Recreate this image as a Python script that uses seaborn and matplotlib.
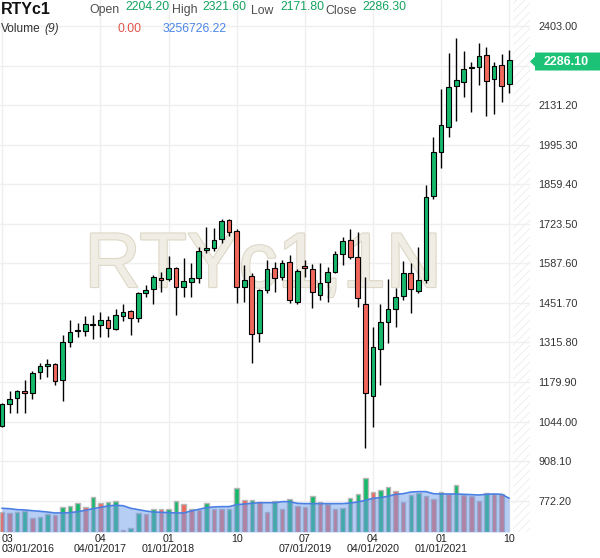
import numpy as np
import pandas as pd
import matplotlib
matplotlib.use('Agg')
import matplotlib.pyplot as plt
import seaborn as sns
from matplotlib.patches import Polygon
from matplotlib import transforms
import matplotlib.patheffects as pe

# ---------------- data ----------------
months = pd.date_range('2016-03-01', periods=68, freq='MS')

open_ = [1029, 1103, 1124, 1148, 1141, 1213, 1234, 1241, 1186, 1316,
         1354, 1354, 1376, 1375, 1392, 1363, 1408, 1423, 1398, 1487,
         1498, 1536, 1532, 1570, 1505, 1522, 1536, 1632, 1639, 1670,
         1735, 1698, 1505, 1543, 1347, 1496, 1570, 1539, 1591, 1453,
         1577, 1567, 1478, 1522, 1557, 1618, 1666, 1608, 1447, 1130,
         1292, 1385, 1429, 1474, 1553, 1491, 1530, 1819, 1969, 2055,
         2196, 2209, 2260, 2261, 2302, 2220, 2268, 2204.2]
high = [1109, 1148, 1152, 1187, 1216, 1244, 1258, 1244, 1340, 1392,
        1381, 1405, 1411, 1419, 1405, 1429, 1447, 1427, 1488, 1512,
        1547, 1557, 1611, 1576, 1605, 1588, 1645, 1713, 1708, 1739,
        1739, 1704, 1581, 1555, 1498, 1598, 1591, 1599, 1616, 1567,
        1599, 1585, 1587, 1576, 1631, 1679, 1707, 1696, 1542, 1369,
        1447, 1532, 1502, 1597, 1587, 1645, 1856, 2023, 2185, 2309,
        2361, 2316, 2280, 2343, 2330, 2278, 2306, 2321.6]
low = [1024, 1074, 1074, 1072, 1120, 1189, 1196, 1170, 1116, 1299,
       1333, 1338, 1326, 1333, 1336, 1358, 1391, 1342, 1387, 1473,
       1447, 1488, 1527, 1409, 1473, 1473, 1519, 1624, 1630, 1658,
       1683, 1450, 1456, 1244, 1316, 1484, 1490, 1530, 1452, 1447,
       1539, 1433, 1461, 1453, 1553, 1581, 1601, 1436, 952, 1024,
       1168, 1313, 1368, 1461, 1418, 1484, 1519, 1807, 1914, 2020,
       2075, 2158, 2106, 2199, 2093, 2099, 2141, 2171.8]
close = [1104, 1120, 1148, 1141, 1210, 1234, 1241, 1182, 1316, 1350,
         1357, 1378, 1378, 1392, 1364, 1409, 1419, 1398, 1484, 1495,
         1539, 1529, 1570, 1505, 1527, 1536, 1629, 1639, 1666, 1732,
         1694, 1505, 1529, 1343, 1496, 1567, 1536, 1587, 1461, 1560,
         1570, 1488, 1519, 1557, 1618, 1663, 1608, 1467, 1141, 1299,
         1385, 1429, 1471, 1553, 1498, 1529, 1814, 1969, 2062, 2192,
         2216, 2254, 2262, 2299, 2213, 2264, 2196, 2286.3]

# volume in millions and its 9-period moving average
volume_m = [1.96, 1.80, 1.96, 2.03, 1.38, 1.48, 1.71, 1.67, 2.45, 2.54,
            2.83, 2.45, 3.41, 2.83, 2.90, 2.99, 0.16, 0.39, 1.87, 1.71,
            2.25, 2.19, 2.22, 3.03, 2.74, 2.22, 2.16, 2.80, 2.25, 2.19,
            2.22, 4.28, 3.06, 3.12, 2.90, 1.96, 2.99, 2.25, 3.19, 2.54,
            2.45, 3.51, 2.90, 2.70, 2.25, 2.35, 3.32, 3.67, 5.18, 3.90,
            4.06, 4.38, 3.99, 2.93, 3.57, 3.77, 3.51, 3.22, 3.90, 3.64,
            4.54, 3.57, 3.48, 3.03, 3.80, 3.67, 3.64, 0.0]
vol_ma_m = [2.29, 2.25, 2.16, 2.13, 2.06, 2.00, 1.93, 1.84, 1.84, 1.87,
            1.96, 2.09, 2.25, 2.38, 2.51, 2.58, 2.54, 2.29, 2.16, 2.03,
            1.93, 1.90, 1.87, 1.84, 1.84, 2.03, 2.19, 2.35, 2.42, 2.45,
            2.45, 2.64, 2.70, 2.77, 2.83, 2.83, 2.83, 2.93, 2.93, 2.77,
            2.74, 2.74, 2.74, 2.74, 2.74, 2.74, 2.80, 2.90, 3.06, 3.25,
            3.32, 3.45, 3.64, 3.70, 3.86, 3.90, 3.90, 3.70, 3.67, 3.67,
            3.67, 3.64, 3.61, 3.57, 3.64, 3.67, 3.64, 3.26]

price_ticks = [2403.00, 2267.10, 2131.20, 1995.30, 1859.40, 1723.50, 1587.60,
               1451.70, 1315.80, 1179.90, 1044.00, 908.10, 772.20]
xtick_idx = [0, 13, 22, 31, 40, 49, 58, 67]
xtick_top = ['03', '04', '01', '10', '07', '04', '01', '10']
xtick_bottom = ['03/01/2016', '04/01/2017', '01/01/2018', '', '07/01/2019',
                '04/01/2020', '01/01/2021', '']
last_price = 2286.10
hdr_open, hdr_high, hdr_low, hdr_close = '2204.20', '2321.60', '2171.80', '2286.30'
hdr_vol, hdr_vol_ma = '0.00', '3256726.22'

# ---------------- style ----------------
sns.set_style('white')
plt.rcParams['font.family'] = ['Liberation Sans', 'DejaVu Sans']
plt.rcParams['hatch.linewidth'] = 0.5

GREEN = '#16b86c'
RED = '#f2675b'
W, H = 600, 558

fig = plt.figure(figsize=(W / 100, H / 100), dpi=100)
rect = [0, (H - 532) / H, 530 / W, 532 / H]
ax = fig.add_axes(rect)

idx = np.arange(len(months))
o = np.array(open_, float); c = np.array(close, float)
hi = np.array(high, float); lo = np.array(low, float)
up = c >= o

x0 = -2 / 7.57
x1 = (530 - 2) / 7.57
ax.set_xlim(x0, x1)
ax.set_ylim(664.4, 2492.3)

for s in ax.spines.values():
    s.set_visible(False)

# grid
ax.set_xticks(xtick_idx)
ax.set_xticklabels([])
ax.set_yticks(price_ticks)
ax.set_yticklabels(['' if abs(t - 2267.10) < 0.01 else f'{t:.2f}' for t in price_ticks])
ax.yaxis.tick_right()
ax.tick_params(axis='both', length=0)
ax.tick_params(axis='y', pad=6, labelsize=7.8, labelcolor='#333333')
ax.grid(True, color='#efefef', lw=1.0, zorder=0)
ax.set_axisbelow(True)

# hatched future area
ax.axvspan(67.45, x1, facecolor='none', edgecolor='#e9e9e9', hatch='////', lw=0, zorder=0.5)

# watermark
ax.text(263 / W, 1 - 287 / H, 'RTYc1,1N', transform=fig.transFigure, ha='center',
        va='baseline', fontsize=56, color='#f0ede5', zorder=1,
        path_effects=[pe.withStroke(linewidth=1.6, foreground='#ddd8c7')])

# candles
ax.vlines(idx, lo, hi, color='black', lw=1.0, zorder=2)
body_h = np.maximum(np.abs(c - o), 1.5)
ax.bar(idx, body_h, bottom=np.minimum(o, c), width=0.62,
       color=np.where(up, GREEN, RED), edgecolor='black', linewidth=0.8, zorder=3)

# volume overlay
vax = fig.add_axes(rect, sharex=ax)
vax.patch.set_alpha(0)
vax.axis('off')
vax.set_ylim(0, 532 * 0.0966)
vol = np.array(volume_m)
vol_up = np.concatenate([[False], vol[1:] > vol[:-1]])
mask = vol > 0
vax.bar(idx[mask], vol[mask], width=0.6, color=np.where(vol_up, GREEN, RED)[mask],
        edgecolor='#b8b8b8', linewidth=1.0, zorder=2)
vax.fill_between(idx, 0, vol_ma_m, color='#6f9cea', alpha=0.5, lw=0, zorder=3)
sns.lineplot(x=idx, y=vol_ma_m, ax=vax, color='#4a7fe3', lw=1.2, zorder=4)
vax.set_xlim(x0, x1)

# x labels
bt = transforms.blended_transform_factory(ax.transData, fig.transFigure)
for i, t1, t2 in zip(xtick_idx, xtick_top, xtick_bottom):
    ha = 'left' if i == 0 else 'center'
    ax.text(i, 1 - 539.5 / H, t1, transform=bt, ha=ha, va='center', fontsize=7.7,
            color='#222222', clip_on=False)
    if t2:
        ax.text(i, 1 - 549 / H, t2, transform=bt, ha=ha, va='center', fontsize=7.7,
                color='#222222', clip_on=False)

# price tag
fig.canvas.draw()
ypix = ax.transData.transform((0, last_price))[1]
yt = H - ypix + 1.5
pts = [(530, yt), (535, yt - 5), (535, yt - 9), (600, yt - 9), (600, yt + 9),
       (535, yt + 9), (535, yt + 5)]
poly = Polygon([(x / W, 1 - y / H) for x, y in pts], closed=True,
               transform=fig.transFigure, facecolor='#1cc377', edgecolor='none')
fig.add_artist(poly)
fig.text(566 / W, 1 - yt / H, f'{last_price:.2f}', ha='center', va='center',
         fontsize=9, fontweight='bold', color='white')

# header
def ftxt(x, y, s, **kw):
    fig.text(x / W, 1 - y / H, s, va='center', ha='left', **kw)

VG = '#12a35f'
LG = '#4d4d4d'
ftxt(1, 9, 'RTYc1', fontsize=11.5, fontweight='bold', color='#111111')
ftxt(89, 10.5, 'Open', fontsize=8.8, color=LG)
ftxt(125, 7, hdr_open, fontsize=8.8, color=VG)
ftxt(172, 10.5, 'High', fontsize=8.8, color=LG)
ftxt(202, 7, hdr_high, fontsize=8.8, color=VG)
ftxt(251, 10.5, 'Low', fontsize=8.8, color=LG)
ftxt(280, 7, hdr_low, fontsize=8.8, color=VG)
ftxt(325, 10.5, 'Close', fontsize=8.8, color=LG)
ftxt(362, 7, hdr_close, fontsize=8.8, color=VG)
ftxt(1, 29, 'Volume', fontsize=8.6, color='#333333')
ftxt(44, 29, '(9)', fontsize=8.6, color='#333333', style='italic')
ftxt(118, 29, hdr_vol, fontsize=8.8, color='#e0524a')
ftxt(163, 29, hdr_vol_ma, fontsize=8.8, color='#4a86e8')

fig.savefig('out.png', dpi=100)
